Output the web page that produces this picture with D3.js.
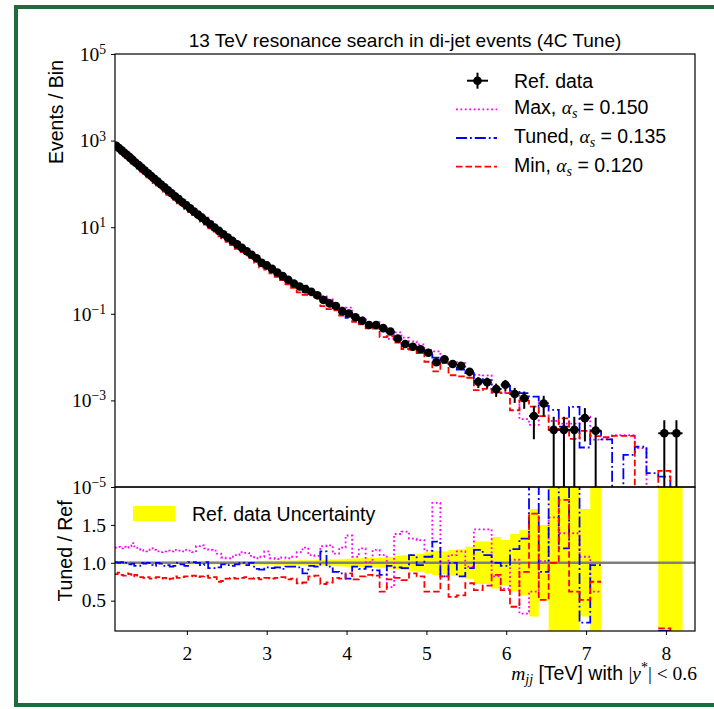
<!DOCTYPE html>
<html>
<head>
<meta charset="utf-8">
<script src="https://cdn.jsdelivr.net/npm/d3@7"></script>
<style>
body { margin: 0; background: #fff; }
text { font-family: 'Liberation Sans', Arial, sans-serif; }
.serif { font-family: 'Liberation Serif', 'Times New Roman', serif; }
</style>
</head>
<body>
<svg id="chart" width="714" height="709"></svg>
<script>
// bin edges in TeV
var binEdges = [
	1.100, 1.133, 1.166, 1.200, 1.234, 1.269, 1.305, 1.341, 1.378, 1.416,
	1.454, 1.493, 1.533, 1.573, 1.614, 1.656, 1.698, 1.741, 1.785, 1.830,
	1.875, 1.921, 1.968, 2.016, 2.065, 2.114, 2.164, 2.215, 2.267, 2.320,
	2.374, 2.429, 2.485, 2.542, 2.600, 2.659, 2.719, 2.780, 2.842, 2.905,
	2.969, 3.034, 3.100, 3.167, 3.235, 3.305, 3.376, 3.448, 3.521, 3.596,
	3.672, 3.749, 3.827, 3.907, 3.988, 4.070, 4.154, 4.239, 4.326, 4.414,
	4.504, 4.595, 4.688, 4.782, 4.878, 4.975, 5.074, 5.175, 5.277, 5.381,
	5.487, 5.595, 5.705, 5.817, 5.931, 6.047, 6.165, 6.285, 6.407, 6.531,
	6.658, 6.787, 6.918, 7.052, 7.188, 7.326, 7.467, 7.610, 7.756, 7.904,
	8.055, 8.208, 8.364
];

// events / bin of the reference data
var refData = [
	759, 673, 594, 524, 461, 405, 354, 309, 269, 234,
	203, 176, 152, 131, 113, 97.0, 83.4, 71.4, 61.0, 52.0,
	44.4, 37.8, 32.1, 27.2, 23.0, 19.5, 16.5, 13.9, 11.7, 9.82,
	8.24, 6.90, 5.77, 4.82, 4.02, 3.34, 2.78, 2.31, 1.91, 1.50,
	1.31, 1.09, 0.897, 0.740, 0.610, 0.500, 0.427, 0.372, 0.324, 0.269,
	0.209, 0.174, 0.151, 0.115, 0.102, 0.0832, 0.0692, 0.0550, 0.0550, 0.0468,
	0.0389, 0.0269, 0.0200, 0.0174, 0.0151, 0.0126, 0.00759, 0.00891, 0.00692, 0.00631,
	0.00457, 0.00269, 0.00263, 0.00182, 0.00229, 0.00141, 0.00112, 0.000437, 0.000851, 0.000209,
	0.000209, 0.000209, 0.000389, 0.000200, 0, 0, 0, 0, 0, 0.000174,
	0.000174, 0
];

// relative uncertainty of the reference data
var refRelErr = [
	0.020, 0.020, 0.020, 0.020, 0.020, 0.020, 0.020, 0.020, 0.020, 0.020,
	0.020, 0.020, 0.020, 0.020, 0.020, 0.020, 0.020, 0.020, 0.020, 0.020,
	0.020, 0.020, 0.020, 0.020, 0.020, 0.020, 0.020, 0.020, 0.020, 0.020,
	0.020, 0.021, 0.021, 0.022, 0.022, 0.023, 0.023, 0.024, 0.024, 0.025,
	0.026, 0.027, 0.028, 0.029, 0.030, 0.031, 0.032, 0.034, 0.035, 0.037,
	0.040, 0.042, 0.045, 0.048, 0.052, 0.056, 0.060, 0.065, 0.066, 0.070,
	0.076, 0.090, 0.10, 0.11, 0.12, 0.14, 0.16, 0.15, 0.17, 0.18,
	0.21, 0.28, 0.28, 0.34, 0.30, 0.38, 0.43, 0.71, 0.50, 1.0,
	1.0, 1.0, 0.71, 1.0, 0, 0, 0, 0, 0, 1.0,
	1.0, 0
];

// MC / reference ratios (null where the reference bin is empty)
var ratioMax = [
	1.20, 1.21, 1.19, 1.21, 1.20, 1.22, 1.26, 1.20, 1.18, 1.17,
	1.16, 1.15, 1.19, 1.17, 1.15, 1.14, 1.15, 1.16, 1.15, 1.17,
	1.16, 1.15, 1.17, 1.16, 1.14, 1.22, 1.23, 1.19, 1.17, 1.16,
	1.12, 1.07, 1.06, 1.08, 1.10, 1.14, 1.13, 1.09, 1.06, 1.08,
	1.15, 1.06, 1.05, 1.07, 1.06, 1.08, 1.14, 1.20, 1.10, 1.09,
	1.22, 1.23, 1.12, 1.20, 1.36, 1.08, 1.19, 1.01, 1.17, 1.10,
	0.68, 1.38, 1.41, 1.32, 1.30, 1.16, 1.79, 0.82, 1.10, 1.15,
	0.95, 1.44, 1.44, 0.82, 0.66, 1.04, 0.33, 0.62, 1.02, 1.60,
	1.39, 1.39, 1.08, 0.62, null, null, null, null, null, 0,
	0, null
];
var ratioTuned = [
	1.01, 1.00, 1.01, 0.99, 1.00, 0.98, 0.99, 0.96, 0.96, 1.00,
	0.99, 1.00, 0.97, 0.96, 1.00, 0.99, 0.96, 0.97, 0.95, 0.96,
	1.00, 0.98, 0.96, 1.01, 1.01, 1.00, 0.97, 1.01, 0.93, 0.93,
	0.94, 0.98, 0.97, 0.96, 0.98, 1.00, 0.97, 1.00, 0.92, 0.91,
	0.94, 0.93, 0.94, 0.92, 0.95, 0.95, 0.94, 0.86, 0.96, 0.95,
	1.15, 0.95, 0.88, 0.86, 0.79, 0.95, 0.92, 0.95, 0.90, 0.84,
	0.96, 0.94, 0.93, 1.10, 0.97, 1.08, 1.28, 0.82, 1.00, 0.82,
	0.93, 1.17, 1.10, 1.00, 0.96, 1.18, 1.32, 2.80, 0.88, 2.90,
	1.19, 3.40, 0.21, 0.97, null, null, null, null, null, 0.10,
	0, null
];
var ratioMin = [
	0.85, 0.87, 0.84, 0.83, 0.86, 0.85, 0.82, 0.84, 0.83, 0.81,
	0.80, 0.81, 0.79, 0.80, 0.81, 0.79, 0.80, 0.78, 0.79, 0.82,
	0.80, 0.81, 0.82, 0.82, 0.83, 0.81, 0.82, 0.83, 0.80, 0.81,
	0.75, 0.76, 0.79, 0.80, 0.79, 0.80, 0.81, 0.79, 0.80, 0.78,
	0.80, 0.79, 0.80, 0.81, 0.78, 0.79, 0.73, 0.74, 0.82, 0.83,
	0.72, 0.74, 0.80, 0.79, 0.86, 0.78, 0.82, 0.84, 0.83, 0.62,
	0.78, 0.80, 0.77, 0.86, 0.82, 0.62, 0.62, 0.82, 0.55, 0.57,
	0.73, 0.64, 0.70, 0.84, 0.64, 0.42, 0.88, 1.65, 0.51, 1.00,
	1.83, 0.62, 0.51, 0.75, null, null, null, null, null, 0.135,
	0, null
];

// MC events / bin where the reference bin is empty
var emptyBins = [84, 85, 86, 87, 88, 91];
var maxEmpty = [1.26e-4, 1.58e-4, 1.58e-4, 7.9e-5, 0, 0];
var tunedEmpty = [1.26e-4, 0, 5.5e-5, 8.5e-5, 2.1e-5, 0];
var minEmpty = [1.41e-4, 1.51e-4, 1.51e-4, 0, 0, 0];

var yTickVals = [1e-5, 1e-3, 1e-1, 1e1, 1e3, 1e5];
var yTickExp = ['\u22125', '\u22123', '\u22121', '1', '3', '5'];
var ratioTicks = [0.5, 1.0, 1.5];
var xTicks = [2, 3, 4, 5, 6, 7, 8];

var svg = d3.select('#chart');
var pL = 115, pR = 695, pT = 54, pM = 487, pB = 631;
var FS = 19.5;

svg.append('rect').attr('x', 16).attr('y', 7).attr('width', 740).attr('height', 698)
	.attr('fill', 'none').attr('stroke', '#1f6b3e').attr('stroke-width', 4);

var x = d3.scaleLinear().domain([binEdges[0], binEdges[binEdges.length - 1]]).range([pL, pR]);
var y = d3.scaleLog().domain([1e-5, 1e5]).range([pM, pT]);
var yr = d3.scaleLinear().domain([0.1, 2.0]).range([pB, pM]);

var defs = svg.append('defs');
defs.append('clipPath').attr('id', 'clipTop').append('rect')
	.attr('x', pL).attr('y', pT).attr('width', pR - pL).attr('height', pM - pT);
defs.append('clipPath').attr('id', 'clipRatio').append('rect')
	.attr('x', pL).attr('y', pM).attr('width', pR - pL).attr('height', pB - pM);

function yLog(v) {
	return v > 0 ? y(v) : pM + 20;
}

function mcValues(ratio, empty) {
	return refData.map(function(d, i) {
		if (d > 0) return ratio[i] * d;
		var k = emptyBins.indexOf(i);
		return k >= 0 ? empty[k] : 0;
	});
}

// points of a histogram outline, each bin gives two points
function stepPoints(vals) {
	var pts = [];
	vals.forEach(function(v, i) {
		pts.push({ x: binEdges[i], v: v });
		pts.push({ x: binEdges[i + 1], v: v });
	});
	return pts;
}

var series = [
	{ ratio: ratioMax, empty: maxEmpty, color: '#ff00ff', dash: '1.8,2.6' },
	{ ratio: ratioTuned, empty: tunedEmpty, color: '#0000ff', dash: '11,3,1.8,3' },
	{ ratio: ratioMin, empty: minEmpty, color: '#ff0000', dash: '6.5,3' }
];

// ---------- upper panel ----------
var gTop = svg.append('g').attr('clip-path', 'url(#clipTop)');

var lineTop = d3.line().x(function(d) { return x(d.x); }).y(function(d) { return yLog(d.v); });

series.forEach(function(s) {
	gTop.append('path')
		.datum(stepPoints(mcValues(s.ratio, s.empty)))
		.attr('d', lineTop)
		.attr('fill', 'none')
		.attr('stroke', s.color)
		.attr('stroke-width', 1.8)
		.attr('stroke-dasharray', s.dash);
});

var pts = refData.map(function(d, i) {
	return { x0: binEdges[i], x1: binEdges[i + 1], xc: (binEdges[i] + binEdges[i + 1]) / 2, v: d, e: d * refRelErr[i] };
}).filter(function(d) { return d.v > 0; });

gTop.selectAll('.ebar').data(pts).enter().append('line')
	.attr('x1', function(d) { return x(d.xc); })
	.attr('x2', function(d) { return x(d.xc); })
	.attr('y1', function(d) { return yLog(d.v + d.e); })
	.attr('y2', function(d) { return yLog(d.v - d.e > 1e-9 ? d.v - d.e : 0); })
	.attr('stroke', '#000').attr('stroke-width', 2);

gTop.selectAll('.xbar').data(pts).enter().append('line')
	.attr('x1', function(d) { return x(d.x0); })
	.attr('x2', function(d) { return x(d.x1); })
	.attr('y1', function(d) { return y(d.v); })
	.attr('y2', function(d) { return y(d.v); })
	.attr('stroke', '#000').attr('stroke-width', 2);

gTop.selectAll('.dot').data(pts).enter().append('circle')
	.attr('cx', function(d) { return x(d.xc); })
	.attr('cy', function(d) { return y(d.v); })
	.attr('r', 4.3)
	.attr('fill', '#000');

// ---------- ratio panel ----------
var gRat = svg.append('g').attr('clip-path', 'url(#clipRatio)');

var bandPts = stepPoints(refRelErr.map(function(e, i) { return refData[i] > 0 ? e : null; }));
gRat.append('path')
	.datum(bandPts)
	.attr('d', d3.area()
		.defined(function(d) { return d.v !== null; })
		.x(function(d) { return x(d.x); })
		.y0(function(d) { return yr(1 - d.v); })
		.y1(function(d) { return yr(1 + d.v); }))
	.attr('fill', '#ffff00');

gRat.append('line')
	.attr('x1', pL).attr('x2', pR)
	.attr('y1', yr(1)).attr('y2', yr(1))
	.attr('stroke', '#808080').attr('stroke-width', 2.5);

var lineRat = d3.line()
	.defined(function(d) { return d.v !== null; })
	.x(function(d) { return x(d.x); })
	.y(function(d) { return yr(d.v); });

series.forEach(function(s) {
	gRat.append('path')
		.datum(stepPoints(s.ratio))
		.attr('d', lineRat)
		.attr('fill', 'none')
		.attr('stroke', s.color)
		.attr('stroke-width', 1.8)
		.attr('stroke-dasharray', s.dash);
});

// ---------- frames and axes ----------
svg.append('rect').attr('x', pL).attr('y', pT).attr('width', pR - pL).attr('height', pM - pT)
	.attr('fill', 'none').attr('stroke', '#000').attr('stroke-width', 1.2);
svg.append('rect').attr('x', pL).attr('y', pM).attr('width', pR - pL).attr('height', pB - pM)
	.attr('fill', 'none').attr('stroke', '#000').attr('stroke-width', 1.2);

var axY = svg.append('g').attr('transform', 'translate(' + pL + ',0)')
	.call(d3.axisLeft(y).tickValues(yTickVals).tickSize(4).tickPadding(5).tickFormat(''));
axY.select('.domain').remove();
axY.selectAll('.tick text').each(function(d, i) {
	var t = d3.select(this).attr('class', 'serif').attr('font-size', FS).attr('fill', '#000');
	t.append('tspan').text('10');
	t.append('tspan').attr('dy', '-0.5em').attr('font-size', '0.7em').text(yTickExp[i]);
});

var axR = svg.append('g').attr('transform', 'translate(' + pL + ',0)')
	.call(d3.axisLeft(yr).tickValues(ratioTicks).tickSize(4).tickPadding(5).tickFormat(d3.format('.1f')));
axR.select('.domain').remove();
axR.selectAll('.tick text').attr('class', 'serif').attr('font-size', FS).attr('fill', '#000');

var axX = svg.append('g').attr('transform', 'translate(0,' + pB + ')')
	.call(d3.axisBottom(x).tickValues(xTicks).tickSize(4).tickPadding(11).tickFormat(d3.format('d')));
axX.select('.domain').remove();
axX.selectAll('.tick text').attr('class', 'serif').attr('font-size', FS).attr('fill', '#000');

// ---------- texts ----------
svg.append('text').attr('x', (pL + pR) / 2).attr('y', 47).attr('text-anchor', 'middle')
	.attr('font-size', 19).text('13 TeV resonance search in di-jet events (4C Tune)');

svg.append('text').attr('transform', 'translate(63,112) rotate(-90)').attr('text-anchor', 'middle')
	.attr('font-size', FS).text('Events / Bin');
svg.append('text').attr('transform', 'translate(72,551) rotate(-90)').attr('text-anchor', 'middle')
	.attr('font-size', FS).text('Tuned / Ref');

var xl = svg.append('text').attr('x', pR + 2).attr('y', 680).attr('text-anchor', 'end').attr('font-size', FS);
xl.append('tspan').attr('class', 'serif').attr('font-style', 'italic').text('m');
xl.append('tspan').attr('class', 'serif').attr('font-style', 'italic').attr('font-size', 14).attr('dy', 4).text('jj');
xl.append('tspan').attr('dy', -4).text(' [TeV] with ');
xl.append('tspan').attr('class', 'serif').text('|');
xl.append('tspan').attr('class', 'serif').attr('font-style', 'italic').text('y');
xl.append('tspan').attr('class', 'serif').attr('font-size', 14).attr('dy', -8).text('*');
xl.append('tspan').attr('class', 'serif').attr('dy', 8).text('| < 0.6');

// legend, upper panel
var legRows = [80.7, 109.3, 138, 166.7];
var lg = svg.append('g');
lg.append('line').attr('x1', 467).attr('x2', 488).attr('y1', legRows[0]).attr('y2', legRows[0]).attr('stroke', '#000').attr('stroke-width', 2);
lg.append('line').attr('x1', 477.5).attr('x2', 477.5).attr('y1', legRows[0] - 8).attr('y2', legRows[0] + 8).attr('stroke', '#000').attr('stroke-width', 2);
lg.append('circle').attr('cx', 477.5).attr('cy', legRows[0]).attr('r', 4.3).attr('fill', '#000');
lg.append('text').attr('x', 514).attr('y', legRows[0] + 7).attr('font-size', FS).text('Ref. data');

var legNames = ['Max', 'Tuned', 'Min'];
var legAlpha = ['0.150', '0.135', '0.120'];
series.forEach(function(s, i) {
	var yy = legRows[i + 1];
	lg.append('line').attr('x1', 456).attr('x2', 497).attr('y1', yy).attr('y2', yy)
		.attr('stroke', s.color).attr('stroke-width', 1.8).attr('stroke-dasharray', s.dash);
	var t = lg.append('text').attr('x', 514).attr('y', yy + 5).attr('font-size', FS);
	t.append('tspan').text(legNames[i] + ', ');
	t.append('tspan').attr('class', 'serif').attr('font-style', 'italic').text('\u03b1');
	t.append('tspan').attr('class', 'serif').attr('font-style', 'italic').attr('font-size', 14).attr('dy', 4).text('s');
	t.append('tspan').attr('dy', -4).text(' = ' + legAlpha[i]);
});

// legend, ratio panel
svg.append('rect').attr('x', 133).attr('y', 506).attr('width', 42).attr('height', 15).attr('fill', '#ffff00');
svg.append('text').attr('x', 192).attr('y', 521).attr('font-size', FS).text('Ref. data Uncertainty');
</script>
</body>
</html>
